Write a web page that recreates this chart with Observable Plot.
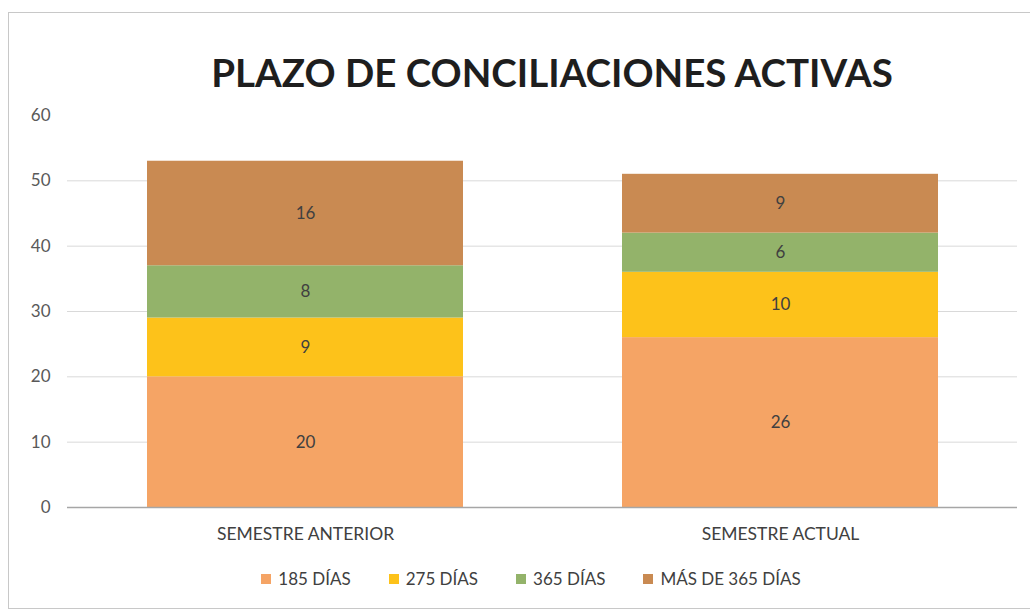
<!DOCTYPE html>
<html>
<head>
<meta charset="utf-8">
<script src="https://cdn.jsdelivr.net/npm/d3@7"></script>
<script src="https://cdn.jsdelivr.net/npm/@observablehq/plot@0.6"></script>
<style>
  html, body { margin: 0; padding: 0; background: #fff; }
  #wrap { position: relative; width: 1030px; height: 614px; overflow: hidden; font-family: Lato, "Open Sans", sans-serif; }
  #frame { position: absolute; left: 8px; top: 12px; width: 1040px; height: 597px; border: 1px solid #c8c8c8; box-sizing: border-box; }
  #title { position: absolute; left: 0; width: 1104px; top: 49px; text-align: center; font-size: 38.5px; font-weight: 700; color: #1e1e1e; }
  #chart { position: absolute; left: 0; top: 0; }
  #legend { position: absolute; left: 0; width: 1062px; top: 568px; display: flex; justify-content: center; gap: 38px; font-size: 17px; color: #404040; }
  #legend span.item { display: inline-flex; align-items: center; gap: 7px; }
  #legend span.sw { display: inline-block; width: 10px; height: 10px; }
</style>
</head>
<body>
<div id="wrap">
  <div id="frame"></div>
  <div id="chart"></div>
  <div id="title">PLAZO DE CONCILIACIONES ACTIVAS</div>
  <div id="legend"></div>
</div>
<script>
const categories = ["SEMESTRE ANTERIOR", "SEMESTRE ACTUAL"];
const series = ["185 DÍAS", "275 DÍAS", "365 DÍAS", "MÁS DE 365 DÍAS"];
const colors = ["#F5A465", "#FDC21A", "#93B36A", "#C98A52"];
const values185 = [20, 26];
const values275 = [9, 10];
const values365 = [8, 6];
const valuesMas365 = [16, 9];
const yTicks = [0, 10, 20, 30, 40, 50, 60];
const gridTicks = [10, 20, 30, 40, 50];

const seriesValues = [values185, values275, values365, valuesMas365];
const data = [];
series.forEach((s, i) => categories.forEach((c, j) => data.push({cat: c, serie: s, value: seriesValues[i][j]})));

const chart = Plot.plot({
  width: 1030,
  height: 614,
  marginTop: 115,
  marginBottom: 107,
  marginLeft: 67,
  marginRight: 13,
  style: { fontFamily: "Lato, 'Open Sans', sans-serif", background: "transparent" },
  x: { domain: categories, paddingInner: 0.335, paddingOuter: 0.1675, label: null },
  y: { domain: [0, 60], ticks: yTicks, label: null },
  color: { domain: series, range: colors },
  marks: [
    Plot.ruleY(gridTicks, { stroke: "#d9d9d9", strokeWidth: 1 }),
    Plot.barY(data, Plot.stackY({ x: "cat", y: "value", fill: "serie", z: "serie", order: series })),
    Plot.text(data, Plot.stackY({ x: "cat", y: "value", z: "serie", order: series, text: d => String(d.value), fill: "#404040", fontSize: 17 })),
    Plot.ruleY([0], { stroke: "#a6a6a6", strokeWidth: 1.5 }),
    Plot.axisY({ ticks: yTicks, tickSize: 0, tickPadding: 17, fontSize: 17, fill: "#595959" }),
    Plot.axisX({ tickSize: 0, tickPadding: 20, fontSize: 17.5, fill: "#404040" })
  ]
});
document.getElementById("chart").appendChild(chart);

const legend = document.getElementById("legend");
series.forEach((s, i) => {
  const item = document.createElement("span");
  item.className = "item";
  const sw = document.createElement("span");
  sw.className = "sw";
  sw.style.background = colors[i];
  const t = document.createElement("span");
  t.textContent = s;
  item.appendChild(sw);
  item.appendChild(t);
  legend.appendChild(item);
});
</script>
</body>
</html>
